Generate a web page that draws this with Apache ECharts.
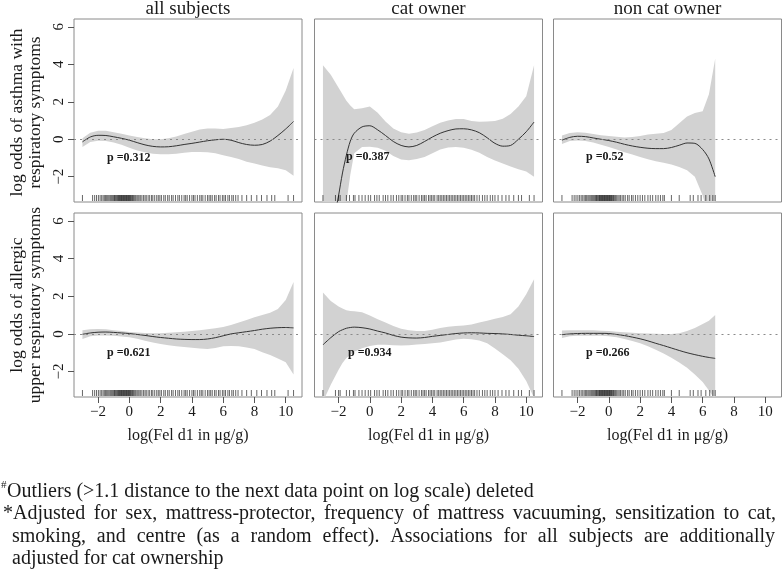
<!DOCTYPE html>
<html><head><meta charset="utf-8">
<script src="https://cdn.jsdelivr.net/npm/echarts@6/dist/echarts.min.js"></script>
<style>html,body{margin:0;padding:0;background:#fff}#c{width:782px;height:570px}</style>
</head><body><div id="c"></div>
<script>
// ---------------- DATA ----------------
const columnTitles = ['all subjects', 'cat owner', 'non cat owner'];
const rowTitles = [['log odds of asthma with', 'respiratory symptoms'], ['log odds of allergic', 'upper respiratory symptoms']];
const xTitle = 'log(Fel d1 in \u03bcg/g)';
const xTicks = [-2, 0, 2, 4, 6, 8, 10];
const yTicks = [-2, 0, 2, 4, 6];
const pValues = ['p =0.312', 'p =0.387', 'p =0.52', 'p =0.621', 'p =0.934', 'p =0.266'];

const xsFull = [-3,-2.5,-2,-1.5,-1,-0.5,0,0.5,1,1.5,2,2.5,3,3.5,4,4.5,5,5.5,6,6.5,7,7.5,8,8.5,9,9.5,10,10.5];
const xsCat  = [-3,-2.5,-2,-1.75,-1.5,-1.25,-1,-0.5,0,0.5,1,1.5,2,2.5,3,3.5,4,4.5,5,5.5,6,6.5,7,7.5,8,8.5,9,9.5,10,10.5];
const xsNon  = [-3,-2.5,-2,-1.5,-1,-0.5,0,0.5,1,1.5,2,2.5,3,3.5,4,4.5,5,5.5,6,6.4,6.8];

// asthma, all subjects
const fitAsthmaAll = [-0.14,0.12,0.21,0.2,0.13,0.05,-0.05,-0.18,-0.3,-0.38,-0.41,-0.4,-0.35,-0.28,-0.22,-0.15,-0.08,-0.03,0,-0.05,-0.18,-0.28,-0.32,-0.28,-0.1,0.2,0.55,0.95];
const hiAsthmaAll  = [0.05,0.35,0.45,0.45,0.38,0.3,0.2,0.12,0.05,0.0,0.0,0.05,0.15,0.28,0.4,0.52,0.58,0.58,0.55,0.6,0.65,0.75,0.88,1.05,1.3,1.75,2.6,3.8];
const loAsthmaAll  = [-0.42,-0.15,-0.08,-0.1,-0.18,-0.3,-0.45,-0.6,-0.7,-0.78,-0.8,-0.8,-0.78,-0.72,-0.68,-0.68,-0.7,-0.75,-0.85,-0.95,-1.05,-1.2,-1.3,-1.4,-1.5,-1.55,-1.65,-1.95];
// asthma, cat owner
const fitAsthmaCat = [-7.5,-5.2,-3.0,-1.8,-0.85,-0.1,0.32,0.66,0.72,0.5,0.2,-0.12,-0.33,-0.41,-0.33,-0.12,0.12,0.32,0.46,0.55,0.56,0.5,0.35,0.08,-0.22,-0.37,-0.33,0.0,0.4,0.92];
const hiAsthmaCat  = [3.95,3.45,2.75,2.4,2.05,1.8,1.6,1.65,1.75,1.42,0.95,0.58,0.38,0.3,0.36,0.5,0.7,0.88,1.0,1.08,1.08,0.98,0.93,0.95,0.98,1.1,1.35,1.75,2.3,3.95];
const loAsthmaCat  = [-12,-8.5,-5.5,-4.3,-3.4,-1.9,-0.75,-0.42,-0.4,-0.46,-0.62,-0.9,-1.08,-1.12,-1.06,-0.95,-0.75,-0.55,-0.44,-0.41,-0.46,-0.56,-0.72,-0.95,-1.13,-1.3,-1.46,-1.6,-1.72,-2.0];
// asthma, non cat owner
const fitAsthmaNon = [-0.05,0.1,0.16,0.14,0.07,0.0,-0.07,-0.16,-0.27,-0.36,-0.43,-0.48,-0.5,-0.5,-0.44,-0.32,-0.2,-0.22,-0.55,-1.05,-2.0];
const hiAsthmaNon  = [0.2,0.33,0.38,0.35,0.28,0.22,0.18,0.14,0.1,0.12,0.18,0.26,0.3,0.34,0.5,0.85,1.22,1.4,1.5,2.4,4.3];
const loAsthmaNon  = [-0.25,-0.1,-0.06,-0.1,-0.18,-0.3,-0.42,-0.55,-0.7,-0.82,-0.95,-1.07,-1.17,-1.26,-1.35,-1.48,-1.65,-2.0,-3.0,-4.3,-6.0];
// allergic upper respiratory, all subjects
const fitAllergAll = [-0.02,0.05,0.09,0.1,0.08,0.05,0.02,-0.03,-0.08,-0.14,-0.19,-0.23,-0.27,-0.29,-0.3,-0.3,-0.27,-0.2,-0.1,0.0,0.06,0.12,0.18,0.25,0.3,0.33,0.34,0.32];
const hiAllergAll  = [0.2,0.25,0.26,0.25,0.2,0.15,0.1,0.07,0.05,0.04,0.04,0.06,0.09,0.12,0.15,0.2,0.25,0.3,0.37,0.47,0.6,0.74,0.88,1.0,1.12,1.32,1.8,2.75];
const loAllergAll  = [-0.27,-0.12,-0.09,-0.08,-0.1,-0.14,-0.18,-0.26,-0.36,-0.45,-0.53,-0.6,-0.65,-0.69,-0.73,-0.78,-0.8,-0.75,-0.66,-0.64,-0.66,-0.72,-0.8,-0.98,-1.12,-1.3,-1.5,-2.15];
// allergic upper respiratory, cat owner
const fitAllergCat = [-0.58,-0.2,0.12,0.22,0.3,0.34,0.36,0.33,0.26,0.15,0.05,-0.08,-0.17,-0.21,-0.22,-0.19,-0.13,-0.08,-0.03,0.02,0.05,0.06,0.05,0.03,0.02,0.0,-0.03,-0.07,-0.1,-0.14];
const hiAllergCat  = [2.2,1.75,1.45,1.35,1.25,1.22,1.2,1.15,0.98,0.78,0.6,0.42,0.28,0.2,0.16,0.16,0.22,0.32,0.38,0.42,0.45,0.5,0.6,0.7,0.8,0.9,1.05,1.45,2.1,2.9];
const loAllergCat  = [-3.6,-2.7,-1.9,-1.55,-1.28,-1.1,-0.95,-0.76,-0.64,-0.58,-0.58,-0.6,-0.62,-0.6,-0.56,-0.53,-0.5,-0.45,-0.38,-0.3,-0.26,-0.28,-0.35,-0.5,-0.78,-1.08,-1.4,-1.85,-2.5,-3.4];
// allergic upper respiratory, non cat owner
const fitAllergNon = [-0.04,0.0,0.02,0.03,0.03,0.03,0.02,-0.03,-0.09,-0.17,-0.26,-0.37,-0.5,-0.62,-0.75,-0.88,-1.0,-1.1,-1.19,-1.25,-1.3];
const hiAllergNon  = [0.18,0.2,0.2,0.2,0.19,0.17,0.15,0.12,0.09,0.06,0.04,0.02,0.01,0.0,0.0,0.04,0.15,0.32,0.52,0.7,1.0];
const loAllergNon  = [-0.22,-0.12,-0.1,-0.1,-0.1,-0.1,-0.12,-0.18,-0.27,-0.38,-0.5,-0.66,-0.84,-1.04,-1.26,-1.52,-1.8,-2.15,-2.55,-3.0,-3.5];

// rug (observed log Fel d1 values)
const rugAll = [-3.0,-2.35,-2.22,-2.1,-1.98,-1.87,-1.77,-1.68,-1.6,-1.52,-1.45,-1.38,-1.31,-1.24,-1.18,-1.12,-1.06,-1.0,-0.95,-0.9,-0.85,-0.8,-0.75,-0.7,-0.66,-0.62,-0.58,-0.54,-0.5,-0.46,-0.42,-0.38,-0.34,-0.3,-0.26,-0.22,-0.18,-0.14,-0.1,-0.06,-0.02,0.02,0.06,0.1,0.15,0.2,0.26,0.32,0.4,0.48,0.55,0.62,0.7,0.8,0.9,1.0,1.08,1.2,1.3,1.42,1.5,1.62,1.75,1.85,1.95,2.05,2.2,2.3,2.45,2.55,2.7,2.8,2.95,3.1,3.2,3.35,3.5,3.6,3.7,3.85,4.0,4.1,4.2,4.35,4.5,4.6,4.7,4.85,5.0,5.1,5.2,5.3,5.45,5.55,5.7,5.8,5.95,6.05,6.15,6.3,6.4,6.55,6.65,6.8,6.95,7.2,7.5,7.8,8.15,8.45,8.8,9.1,9.3,10.15,10.5];
const rugCat = [-3.0,-2.2,-2.0,-1.9,-1.5,-1.3,-1.05,-0.95,-0.7,-0.5,-0.3,-0.1,0.05,0.3,0.45,0.6,0.85,1.0,1.15,1.35,1.5,1.7,1.85,2.0,2.1,2.25,2.4,2.5,2.65,2.8,2.9,3.0,3.15,3.3,3.4,3.5,3.6,3.75,3.85,3.95,4.05,4.15,4.3,4.4,4.5,4.6,4.7,4.8,4.9,5.0,5.1,5.2,5.3,5.4,5.5,5.6,5.7,5.8,5.9,6.0,6.1,6.2,6.3,6.4,6.5,6.6,6.7,6.85,7.0,7.2,7.35,7.5,7.7,7.85,8.0,8.2,8.45,8.7,8.9,9.2,9.5,9.7,10.2,10.5];
const rugNon = [-3.0,-2.35,-2.22,-2.1,-1.98,-1.87,-1.77,-1.67,-1.58,-1.5,-1.42,-1.34,-1.27,-1.2,-1.13,-1.07,-1.01,-0.95,-0.89,-0.84,-0.79,-0.74,-0.69,-0.64,-0.6,-0.56,-0.52,-0.48,-0.44,-0.4,-0.36,-0.32,-0.28,-0.24,-0.2,-0.16,-0.12,-0.08,-0.04,0,0.04,0.08,0.12,0.16,0.2,0.25,0.3,0.35,0.42,0.5,0.58,0.66,0.75,0.85,0.95,1.05,1.2,1.3,1.45,1.55,1.7,1.85,2.0,2.15,2.3,2.5,2.65,2.8,3.0,3.15,3.3,3.45,3.55,4.0,4.5,5.2,5.4,5.7,5.9,6.2,6.45,6.65,6.8];

const footLine1 = 'Outliers (>1.1 distance to the next data point on log scale) deleted';
const footLine2 = '*Adjusted for sex, mattress-protector, frequency of mattress vacuuming, sensitization to cat,';
const footLine3 = 'smoking, and centre (as a random effect). Associations for all subjects are additionally';
const footLine4 = 'adjusted for cat ownership';

// ---------------- LAYOUT / STYLE ----------------
const X_MIN = -3.54, X_MAX = 11.04, Y_MIN = -3.35, Y_MAX = 6.42;
const LEFTS = [74, 314.5, 553.5], TOPS = [19, 213], HEIGHTS = [183, 184], W = 228;
const FONT = '"Liberation Serif", "Times New Roman", serif';
const BAND = '#d2d2d2', CURVE = '#333333', BOX = '#8a8a8a', TXT = '#1a1a1a';

const panels = [
  {xs: xsFull, fit: fitAsthmaAll, hi: hiAsthmaAll, lo: loAsthmaAll, rug: rugAll},
  {xs: xsCat,  fit: fitAsthmaCat, hi: hiAsthmaCat, lo: loAsthmaCat, rug: rugCat},
  {xs: xsNon,  fit: fitAsthmaNon, hi: hiAsthmaNon, lo: loAsthmaNon, rug: rugNon},
  {xs: xsFull, fit: fitAllergAll, hi: hiAllergAll, lo: loAllergAll, rug: rugAll},
  {xs: xsCat,  fit: fitAllergCat, hi: hiAllergCat, lo: loAllergCat, rug: rugCat},
  {xs: xsNon,  fit: fitAllergNon, hi: hiAllergNon, lo: loAllergNon, rug: rugNon}
];
const pPos = [[107, 158], [346, 157], [586, 157], [107, 353], [348, 353], [586, 353]];

const minus = v => (v < 0 ? '\u2212' + Math.abs(v) : String(v));

const grids = [], xAxes = [], yAxes = [], series = [], graphics = [];

panels.forEach((p, i) => {
  const row = Math.floor(i / 3), col = i % 3;
  grids.push({left: LEFTS[col], top: TOPS[row], width: W, height: HEIGHTS[row], show: true,
    borderColor: BOX, borderWidth: 1, backgroundColor: 'transparent', containLabel: false, outerBoundsMode: 'none'});
  const showX = row === 1, showY = col === 0;
  xAxes.push({gridIndex: i, type: 'value', min: X_MIN, max: X_MAX, position: 'bottom',
    axisLine: {show: false, onZero: false}, splitLine: {show: false},
    axisTick: {show: showX, length: 6, customValues: xTicks, lineStyle: {color: '#555'}},
    axisLabel: {show: showX, customValues: xTicks, formatter: minus, margin: 8,
      fontFamily: FONT, fontSize: 15, color: TXT}});
  yAxes.push({gridIndex: i, type: 'value', min: Y_MIN, max: Y_MAX, position: 'left',
    axisLine: {show: false, onZero: false}, splitLine: {show: false},
    axisTick: {show: showY, length: 6, customValues: yTicks, lineStyle: {color: '#555'}},
    axisLabel: {show: showY, customValues: yTicks, formatter: minus, rotate: 90, margin: 7,
      fontFamily: FONT, fontSize: 15, color: TXT}});

  // confidence band
  const xs = p.xs, hi = p.hi, lo = p.lo;
  series.push({type: 'custom', xAxisIndex: i, yAxisIndex: i, clip: true, silent: true, z: 1,
    data: xs.map((x, k) => [x, lo[k], hi[k]]),
    encode: {x: 0, y: [1, 2]},
    renderItem: (params, api) => {
      if (params.dataIndex !== 0) return null;
      const pts = [];
      xs.forEach((x, k) => pts.push(api.coord([x, hi[k]])));
      for (let k = xs.length - 1; k >= 0; k--) pts.push(api.coord([xs[k], lo[k]]));
      return {type: 'polygon', shape: {points: pts}, style: {fill: BAND, stroke: null}};
    }});
  // fitted curve + zero line
  series.push({type: 'line', xAxisIndex: i, yAxisIndex: i, z: 3, showSymbol: false, smooth: 0.3,
    silent: true, clip: true,
    data: xs.map((x, k) => [x, p.fit[k]]),
    lineStyle: {color: CURVE, width: 1},
    markLine: {silent: true, symbol: 'none', label: {show: false},
      lineStyle: {type: [2, 4], color: '#8a8a8a', width: 1}, data: [{yAxis: 0}]}});
  // rug
  series.push({type: 'custom', xAxisIndex: i, yAxisIndex: i, silent: true, z: 4,
    data: p.rug.map(v => [v, Y_MIN]),
    encode: {x: 0, y: 1},
    renderItem: (params, api) => {
      const c = api.coord([api.value(0), Y_MIN]);
      return {type: 'line', shape: {x1: c[0], y1: c[1] - 1, x2: c[0], y2: c[1] - 7},
        style: {stroke: 'rgba(0,0,0,0.6)', lineWidth: 1}};
    }});

  graphics.push({type: 'text', x: pPos[i][0], y: pPos[i][1], z: 100,
    style: {text: pValues[i], fontFamily: FONT, fontSize: 12, fontWeight: 'bold', fill: TXT,
      align: 'left', verticalAlign: 'middle'}});
});

// column titles
columnTitles.forEach((t, c) => {
  graphics.push({type: 'text', x: LEFTS[c] + W / 2, y: 9, z: 100,
    style: {text: t, fontFamily: FONT, fontSize: 19, fill: TXT, align: 'center', verticalAlign: 'middle'}});
  graphics.push({type: 'text', x: LEFTS[c] + W / 2, y: 436, z: 100,
    style: {text: xTitle, fontFamily: FONT, fontSize: 16, fill: TXT, align: 'center', verticalAlign: 'middle'}});
});
// row titles
rowTitles.forEach((lines, r) => {
  const cy = TOPS[r] + HEIGHTS[r] / 2 + (r === 0 ? 2 : 0);
  [17, 35].forEach((x, k) => {
    graphics.push({type: 'text', x: x, y: cy, rotation: Math.PI / 2, z: 100,
      style: {text: lines[k], fontFamily: FONT, fontSize: 17.5, fill: TXT, align: 'center', verticalAlign: 'middle'}});
  });
});

// footnotes
const FS = 20;
const mctx = document.createElement('canvas').getContext('2d');
mctx.font = FS + 'px "Liberation Serif"';
function place(text, x, y) {
  graphics.push({type: 'text', x: x, y: y, z: 100,
    style: {text: text, fontFamily: FONT, fontSize: FS, fill: TXT, align: 'left', verticalAlign: 'middle'}});
}
function justify(text, x0, x1, y) {
  const words = text.split(' ');
  const ws = words.map(w => mctx.measureText(w).width);
  const total = ws.reduce((a, b) => a + b, 0);
  const gap = (x1 - x0 - total) / (words.length - 1);
  let x = x0;
  words.forEach((w, k) => { place(w, x, y); x += ws[k] + gap; });
}
graphics.push({type: 'text', x: 1, y: 485, z: 100,
  style: {text: '#', fontFamily: FONT, fontSize: 11, fill: TXT, align: 'left', verticalAlign: 'middle'}});
place(footLine1, 7, 492);
justify(footLine2, 3, 776, 514);
justify(footLine3, 12, 775, 537);
place(footLine4, 12, 559);

const chart = echarts.init(document.getElementById('c'), null, {renderer: 'canvas'});
chart.setOption({
  animation: false,
  backgroundColor: '#ffffff',
  grid: grids, xAxis: xAxes, yAxis: yAxes, series: series,
  graphic: {elements: graphics}
});
</script></body></html>
